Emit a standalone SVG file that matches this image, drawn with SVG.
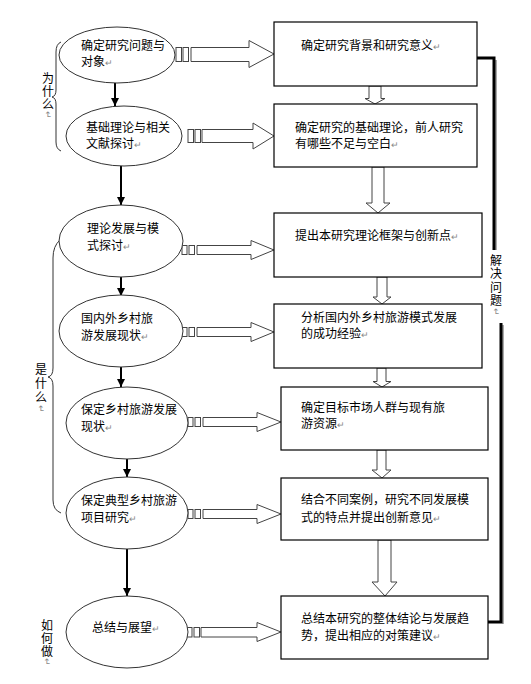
<svg xmlns="http://www.w3.org/2000/svg" width="531" height="684" viewBox="0 0 531 684">
<defs>
<style>
text{font-family:"Noto Sans CJK SC","Liberation Sans",sans-serif;font-size:12px;fill:#000}
.pm{fill:#888;font-size:9px}
.vt{font-size:12px;writing-mode:vertical-rl;letter-spacing:1px}
.ell{fill:#fff;stroke:#333;stroke-width:1}
.box{fill:#fff;stroke:#000;stroke-width:1.2}
.blk{fill:#fff;stroke:#444;stroke-width:1}
.ln{stroke:#000;stroke-width:2;fill:none}
.brace{fill:none;stroke:#333;stroke-width:1}
.thick{fill:none;stroke:#000;stroke-width:3}
.shadow{fill:none;stroke:#aaa;stroke-width:2}
</style>
<marker id="ah" viewBox="0 0 10 10" refX="10" refY="5" markerWidth="4" markerHeight="4" orient="auto" markerUnits="strokeWidth">
<path d="M0,0 L10,5 L0,10 z" fill="#000"/>
</marker>
</defs>
<rect width="531" height="684" fill="#fff"/>

<g id="connectors">
<line class="ln" x1="115" y1="83" x2="115" y2="106" marker-end="url(#ah)" stroke-width="2.5"/>
<line class="ln" x1="121" y1="166" x2="121" y2="205" marker-end="url(#ah)"/>
<line class="ln" x1="121" y1="277" x2="121" y2="296" marker-end="url(#ah)"/>
<line class="ln" x1="121" y1="367" x2="121" y2="387" marker-end="url(#ah)"/>
<line class="ln" x1="127" y1="459" x2="127" y2="477" marker-end="url(#ah)"/>
<line class="ln" x1="127" y1="549" x2="127" y2="596" marker-end="url(#ah)"/>

<g>
<rect class="blk" x="176" y="47.5" width="5.5" height="14"/>
<rect class="blk" x="183" y="47.5" width="5.5" height="14"/>
<polygon class="blk" points="191,47.5 249,47.5 249,40.5 274,54 249,67.5 249,61.5 191,61.5"/>
</g>
<g>
<rect class="blk" x="188" y="129.5" width="5.5" height="13"/>
<rect class="blk" x="195" y="129.5" width="5.5" height="13"/>
<polygon class="blk" points="202,129.5 253,129.5 253,123 274,136 253,149 253,142.5 202,142.5"/>
</g>
<g>
<rect class="blk" x="182" y="245.5" width="5" height="9"/>
<rect class="blk" x="189" y="245.5" width="5.5" height="9"/>
<polygon class="blk" points="197,245.5 251,245.5 251,240.5 274,250 251,259.5 251,254.5 197,254.5"/>
</g>
<g>
<rect class="blk" x="182" y="327.5" width="5" height="9"/>
<rect class="blk" x="189" y="327.5" width="5.5" height="9"/>
<polygon class="blk" points="197,327.5 251,327.5 251,322.5 274,332 251,341.5 251,336.5 197,336.5"/>
</g>
<g>
<rect class="blk" x="188" y="417.5" width="5" height="9"/>
<rect class="blk" x="195" y="417.5" width="5.5" height="9"/>
<polygon class="blk" points="203,417.5 257,417.5 257,412.5 281,422 257,431.5 257,426.5 203,426.5"/>
</g>
<g>
<rect class="blk" x="188" y="509.5" width="5" height="9"/>
<rect class="blk" x="195" y="509.5" width="5.5" height="9"/>
<polygon class="blk" points="203,509.5 257,509.5 257,504.5 281,514 257,523.5 257,518.5 203,518.5"/>
</g>
<g>
<rect class="blk" x="187" y="627.5" width="5" height="9.5"/>
<rect class="blk" x="194" y="627.5" width="5.5" height="9.5"/>
<polygon class="blk" points="201,627.5 257,627.5 257,622.5 281,632 257,641.5 257,637 201,637"/>
</g>

<polygon class="blk" points="369,86 381,86 381,98.5 385,98.5 375,104 365,98.5 369,98.5"/>
<polygon class="blk" points="372,167 384,167 384,203 390,203 378,213 366,203 372,203"/>
<polygon class="blk" points="377,277 387,277 387,297 391,297 382,304 373,297 377,297"/>
<polygon class="blk" points="377,368 386,368 386,381.5 391,381.5 382,387 373,381.5 377,381.5"/>
<polygon class="blk" points="377,450 386,450 386,470 391,470 382,478 372,470 377,470"/>
<polygon class="blk" points="378,540 391,540 391,582 397,582 385,596 372,582 378,582"/>

<path class="shadow" d="M496,60 V250"/>
<path class="shadow" d="M503,325 V624"/>
<path class="thick" d="M476,58 H494 V250"/>
<path class="thick" d="M501,323 V622 H488"/>

<path class="brace" d="M61,42 Q56,44 56,52 V90 Q56,96 52,97 Q56,98 56,104 V142 Q56,149 61,151"/>
<path class="brace" d="M60,240 Q53,246 53,258 V368 Q53,376 48,377 Q53,378 53,386 V500 Q53,510 61,513"/>
</g>

<g id="n1"><ellipse class="ell" cx="117" cy="55" rx="58" ry="28"/>
<text x="81" y="50">确定研究问题与</text><text x="81" y="66">对象<tspan class="pm">↵</tspan></text></g>
<g id="n2"><ellipse class="ell" cx="124" cy="136" rx="58" ry="30"/>
<text x="86" y="132">基础理论与相关</text><text x="86" y="148">文献探讨<tspan class="pm">↵</tspan></text></g>
<g id="n3"><ellipse class="ell" cx="121" cy="241" rx="62" ry="36"/>
<text x="87" y="233">理论发展与模</text><text x="87" y="250">式探讨<tspan class="pm">↵</tspan></text></g>
<g id="n4"><ellipse class="ell" cx="121" cy="331" rx="62" ry="36"/>
<text x="81" y="323">国内外乡村旅</text><text x="81" y="340">游发展现状<tspan class="pm">↵</tspan></text></g>
<g id="n5"><ellipse class="ell" cx="127" cy="423" rx="61" ry="36"/>
<text x="81" y="414">保定乡村旅游发展</text><text x="81" y="431">现状<tspan class="pm">↵</tspan></text></g>
<g id="n6"><ellipse class="ell" cx="127" cy="513" rx="61" ry="36"/>
<text x="81" y="505">保定典型乡村旅游</text><text x="81" y="522">项目研究<tspan class="pm">↵</tspan></text></g>
<g id="n7"><ellipse class="ell" cx="127" cy="632" rx="61" ry="36"/>
<text x="92" y="632">总结与展望<tspan class="pm">↵</tspan></text></g>

<g id="b1"><rect class="box" x="274" y="22" width="203" height="64"/>
<text x="301" y="50">确定研究背景和研究意义<tspan class="pm">↵</tspan></text></g>
<g id="b2"><rect class="box" x="274" y="104" width="203" height="63"/>
<text x="295" y="132">确定研究的基础理论，前人研究</text><text x="295" y="148">有哪些不足与空白<tspan class="pm">↵</tspan></text></g>
<g id="b3"><rect class="box" x="274" y="213" width="208" height="64"/>
<text x="295" y="240">提出本研究理论框架与创新点<tspan class="pm">↵</tspan></text></g>
<g id="b4"><rect class="box" x="274" y="304" width="208" height="64"/>
<text x="301" y="322">分析国内外乡村旅游模式发展</text><text x="301" y="338">的成功经验<tspan class="pm">↵</tspan></text></g>
<g id="b5"><rect class="box" x="281" y="387" width="207" height="63"/>
<text x="301" y="412">确定目标市场人群与现有旅</text><text x="301" y="428">游资源<tspan class="pm">↵</tspan></text></g>
<g id="b6"><rect class="box" x="281" y="478" width="207" height="62"/>
<text x="301" y="504">结合不同案例，研究不同发展模</text><text x="301" y="522">式的特点并提出创新意见<tspan class="pm">↵</tspan></text></g>
<g id="b7"><rect class="box" x="281" y="596" width="207" height="63"/>
<text x="301" y="623">总结本研究的整体结论与发展趋</text><text x="301" y="640">势，提出相应的对策建议<tspan class="pm">↵</tspan></text></g>

<g id="labels">
<text class="vt" x="48" y="72">为什么<tspan class="pm">↵</tspan></text>
<text class="vt" x="41" y="363" style="letter-spacing:2px">是什么<tspan class="pm">↵</tspan></text>
<text class="vt" x="47" y="619">如何做<tspan class="pm">↵</tspan></text>
<text class="vt" x="496" y="254" style="letter-spacing:1.5px">解决问题<tspan class="pm">↵</tspan></text>
</g>
</svg>
